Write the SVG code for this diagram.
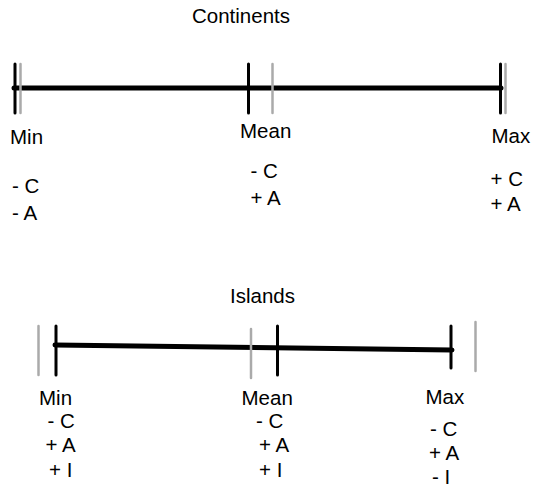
<svg xmlns="http://www.w3.org/2000/svg" width="535" height="488" viewBox="0 0 535 488">
<style>
text{font-family:"Liberation Sans",Arial,sans-serif;font-size:20.5px;fill:#000}
.axis{stroke:#000;stroke-width:5;stroke-linecap:round;fill:none}
.tk{stroke:#000;stroke-width:3;stroke-linecap:round}
.gt{stroke:#aaa;stroke-width:2.5;stroke-linecap:round}
</style>
<rect width="535" height="488" fill="#fff"/>
<g id="connectors">
<line class="axis" x1="14" y1="88" x2="501" y2="88"/>
<line class="axis" x1="55" y1="345" x2="452" y2="350"/>
</g>
<g id="continents-title"><text x="192" y="23">Continents</text></g>
<g id="continents-min">
<line class="tk" x1="15" y1="64" x2="15" y2="113"/>
<line class="gt" x1="20.5" y1="64" x2="20.5" y2="113"/>
<text x="10" y="144">Min</text>
<text x="12" y="193">- C</text>
<text x="12" y="220">- A</text>
</g>
<g id="continents-mean">
<line class="tk" x1="248.5" y1="64" x2="248.5" y2="113"/>
<line class="gt" x1="272.5" y1="64" x2="272.5" y2="113"/>
<text x="240" y="138">Mean</text>
<text x="250.5" y="178">- C</text>
<text x="250.5" y="205">+ A</text>
</g>
<g id="continents-max">
<line class="tk" x1="500.5" y1="64" x2="500.5" y2="113"/>
<line class="gt" x1="505.5" y1="64" x2="505.5" y2="113"/>
<text x="491.5" y="143">Max</text>
<text x="490.5" y="186">+ C</text>
<text x="490.5" y="211">+ A</text>
</g>
<g id="islands-title"><text x="230" y="303">Islands</text></g>
<g id="islands-min">
<line class="gt" x1="38.5" y1="326" x2="38.5" y2="375"/>
<line class="tk" x1="56" y1="326" x2="56" y2="375"/>
<text x="39" y="405">Min</text>
<text x="47.5" y="428">- C</text>
<text x="45.5" y="452">+ A</text>
<text x="49" y="477">+ I</text>
</g>
<g id="islands-mean">
<line class="gt" x1="251" y1="329" x2="251" y2="378"/>
<line class="tk" x1="277.5" y1="326" x2="277.5" y2="375"/>
<text x="241.5" y="405">Mean</text>
<text x="256" y="428">- C</text>
<text x="259" y="452">+ A</text>
<text x="259" y="477">+ I</text>
</g>
<g id="islands-max">
<line class="tk" x1="451" y1="326" x2="451" y2="368"/>
<line class="gt" x1="475.5" y1="322" x2="475.5" y2="371"/>
<text x="425.5" y="404">Max</text>
<text x="430" y="436">- C</text>
<text x="429" y="460">+ A</text>
<text x="432" y="484">- I</text>
</g>
</svg>
